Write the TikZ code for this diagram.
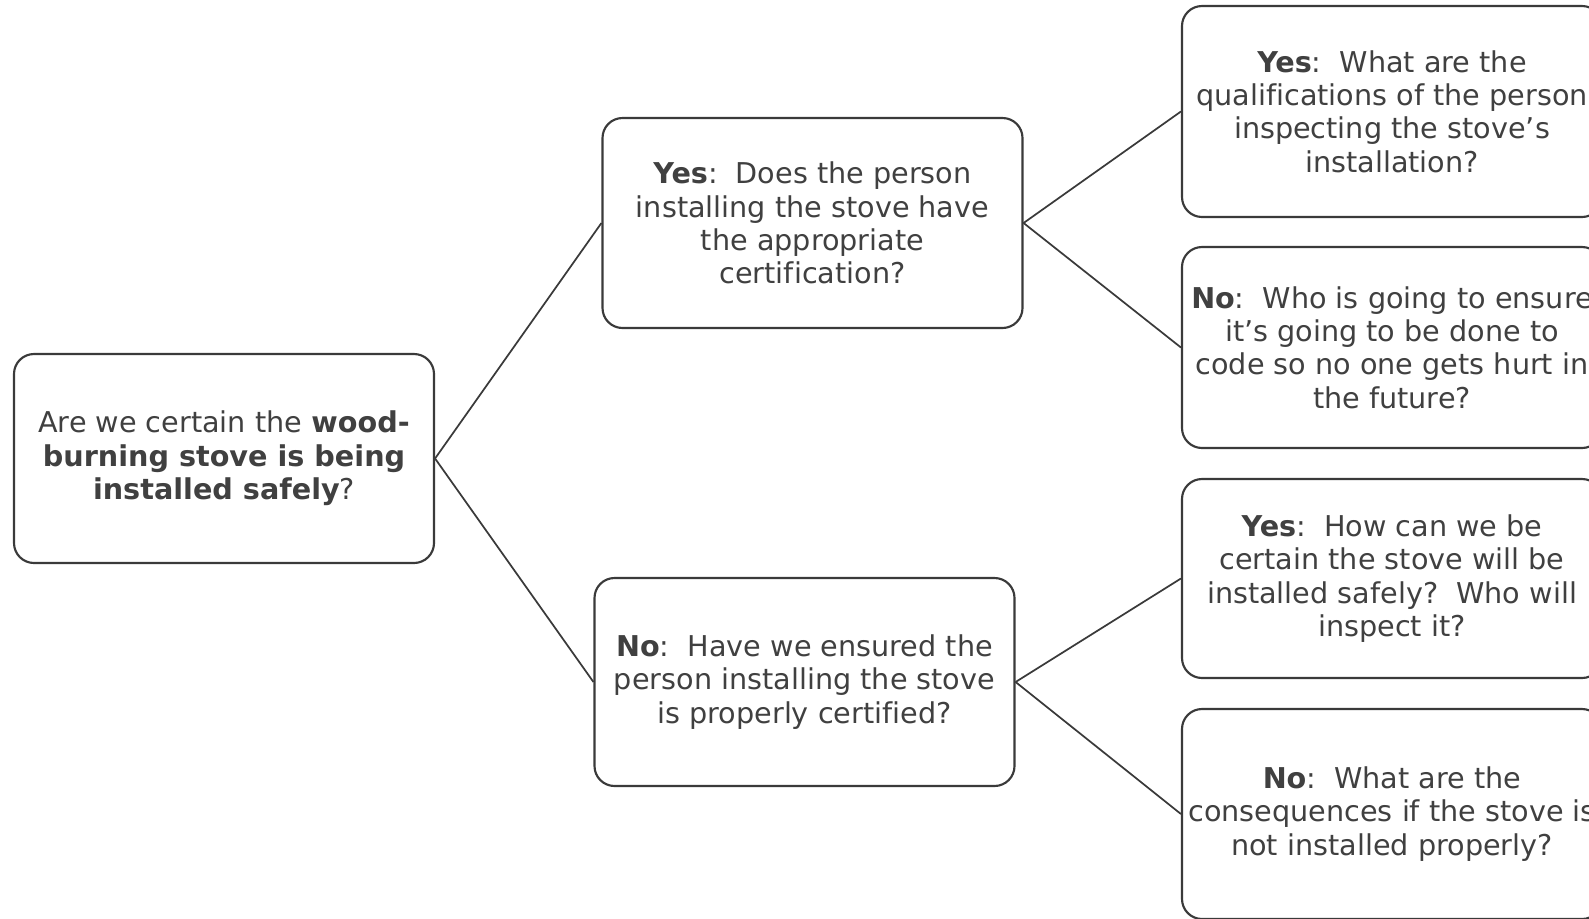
\documentclass[tikz,border=0pt]{standalone}
\usepackage{fontspec}
\setmainfont[Ligatures=NoCommon]{DejaVu Sans}
\definecolor{txt}{HTML}{404040}
\definecolor{ln}{HTML}{3A3A3A}
\begin{document}
\begin{tikzpicture}[x=0.75pt,y=-0.75pt,
  box/.style={draw=ln,line width=1.6pt,rounded corners=15pt,fill=white,
    minimum width=315pt,text=txt,align=center,
    font=\fontsize{21.5}{25}\selectfont,inner sep=0pt},
  link/.style={draw=ln,line width=1.3pt}]
\useasboundingbox (0,0) rectangle (1589,918);
\clip (0,0) rectangle (1589,918);
\node[box,minimum height=156.75pt] (root) at (224,458.5)
  {Are we certain the \textbf{wood-}\\\textbf{burning stove is being}\\\textbf{installed safely}?};
\node[box,minimum height=157.5pt] (yes1) at (812.5,223)
  {\textbf{Yes}:\ \ Does the person\\installing the stove have\\the appropriate\\certification?};
\node[box,minimum height=156pt] (no1) at (804.5,682)
  {\textbf{No}:\ \ Have we ensured the\\person installing the stove\\is properly certified?};
\node[box,minimum height=158.25pt] (r1) at (1392,111.5)
  {\textbf{Yes}:\ \ What are the\\qualifications of the person\\inspecting the stove’s\\installation?};
\node[box,minimum height=150.75pt] (r2) at (1392,347.5)
  {\textbf{No}:\ \ Who is going to ensure\\it’s going to be done to\\code so no one gets hurt in\\the future?};
\node[box,minimum height=149.25pt] (r3) at (1392,578.5)
  {\textbf{Yes}:\ \ How can we be\\certain the stove will be\\installed safely?\ \ Who will\\inspect it?};
\node[box,minimum height=157.5pt] (r4) at (1392,814)
  {\textbf{No}:\ \ What are the\\consequences if the stove is\\not installed properly?};
\draw[link] (root.east) -- (yes1.west);
\draw[link] (root.east) -- (no1.west);
\draw[link] (yes1.east) -- (r1.west);
\draw[link] (yes1.east) -- (r2.west);
\draw[link] (no1.east) -- (r3.west);
\draw[link] (no1.east) -- (r4.west);
\end{tikzpicture}
\end{document}
